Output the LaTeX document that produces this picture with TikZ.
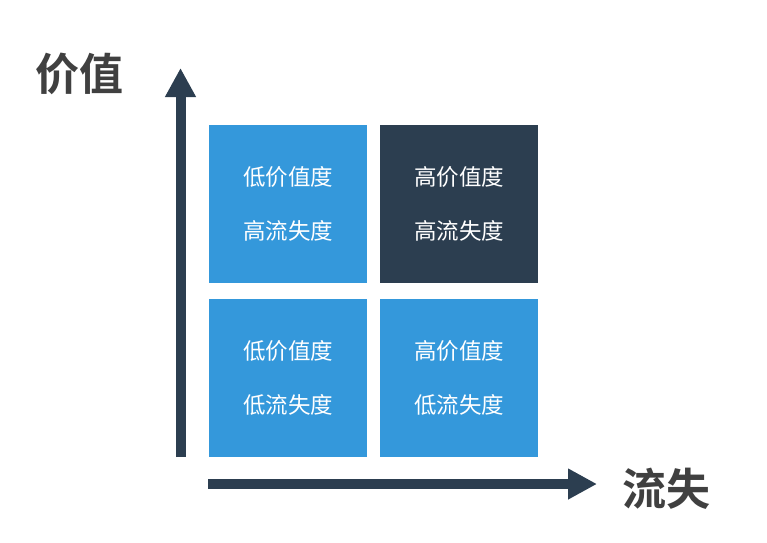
\documentclass[tikz,border=0pt]{standalone}
\usepackage{fontspec}
\setmainfont{Noto Sans CJK SC}
\newfontfamily\cjkbold{Noto Sans CJK SC Bold}
\usetikzlibrary{arrows.meta}
\definecolor{qblue}{HTML}{3498DB}
\definecolor{qdark}{HTML}{2C3E50}
\definecolor{qlabel}{HTML}{404040}
\tikzset{
  quad/.style={fill=#1, draw=none, minimum width=158pt, minimum height=158pt, inner sep=0pt,
    text=white, align=center, font=\fontsize{22.5}{54}\selectfont},
  axislabel/.style={text=qlabel, inner sep=0pt, font=\cjkbold\fontsize{44}{50}\selectfont},
  axisarrow/.style={draw=qdark, line width=10pt, -{Triangle[width=29pt,length=29pt]}}
}
\begin{document}
\begin{tikzpicture}[x=1pt,y=-1pt]
\useasboundingbox (0,0) rectangle (767,542);
\node[quad=qblue] (tl) at (288,204) {低价值度\\高流失度};
\node[quad=qdark] (tr) at (459,204) {高价值度\\高流失度};
\node[quad=qblue] (bl) at (288,378) {低价值度\\低流失度};
\node[quad=qblue] (br) at (459,378) {高价值度\\低流失度};
\coordinate (vs) at (180.5,457);
\coordinate (ve) at (180.5,68);
\coordinate (hs) at (208,484);
\coordinate (he) at (597,484);
\draw[axisarrow] (vs) -- (ve);
\draw[axisarrow] (hs) -- (he);
\node[axislabel] (yl) at (79.5,74) {价值};
\node[axislabel] (xl) at (666,489) {流失};
\end{tikzpicture}
\end{document}
